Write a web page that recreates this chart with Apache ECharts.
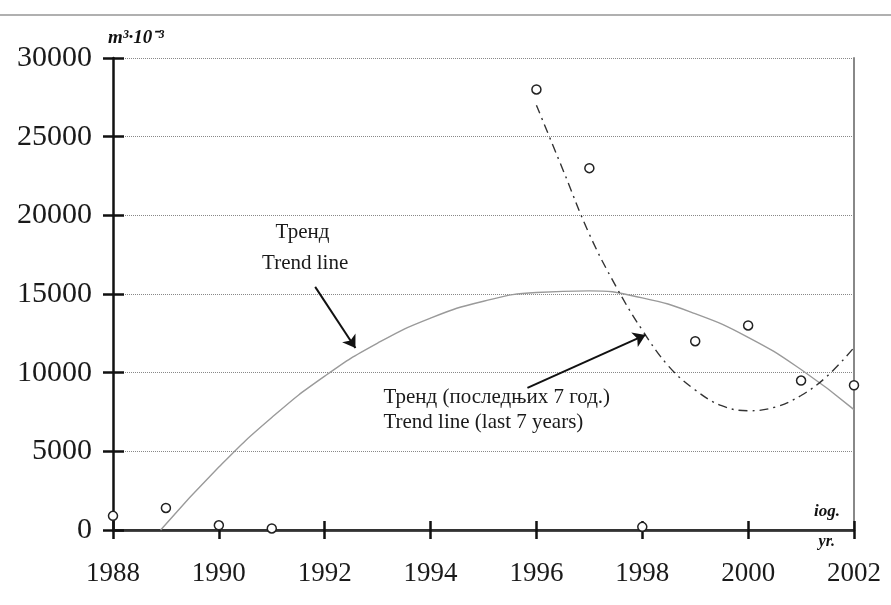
<!DOCTYPE html>
<html>
<head>
<meta charset="utf-8">
<script src="https://cdn.jsdelivr.net/npm/echarts@6/dist/echarts.min.js"></script>
<style>
  html, body { margin: 0; padding: 0; background: #fff; }
  #chart { width: 891px; height: 605px; }
</style>
</head>
<body>
<div id="chart"></div>
<script>
// measured points (m3 * 10^-3)
const years = [1988, 1989, 1990, 1991, 1996, 1997, 1998, 1999, 2000, 2001, 2002]
const volumes = [900, 1400, 300, 100, 28000, 23000, 200, 12000, 13000, 9500, 9200]

// trend line over all years
const trendYears = [1988.9, 1990, 1991, 1992, 1993, 1994, 1995, 1996, 1997, 1998, 1999, 2000, 2001, 2002]
const trendValues = [0, 4000, 7150, 9780, 11880, 13470, 14540, 15100, 15200, 14750, 13750, 12250, 10200, 7650]

// trend line for the last 7 years
const trend7Years = [1996, 1996.5, 1997, 1997.5, 1998, 1998.5, 1999, 1999.5, 2000, 2000.5, 2001, 2001.5, 2002]
const trend7Values = [27000, 22900, 18800, 15500, 12700, 10400, 8900, 7900, 7580, 7800, 8550, 9800, 11600]

const yearTicks = { min: 1988, max: 2002, interval: 2 }
const valueTicks = { min: 0, max: 30000, interval: 5000 }

const serif = 'Liberation Serif'
const chart = echarts.init(document.getElementById('chart'))

const zip = (xs, ys) => xs.map((x, i) => [x, ys[i]])
const plain = (v) => String(v)

chart.setOption({
  animation: false,
  backgroundColor: '#fff',
  grid: { left: 113, right: 37, top: 58, bottom: 75 },
  xAxis: [
    {
      type: 'value', ...yearTicks, position: 'bottom',
      axisLine: { lineStyle: { color: '#111', width: 2.5 } },
      axisTick: { length: 9, lineStyle: { color: '#111', width: 2.5 } },
      axisLabel: { margin: 30, fontFamily: serif, fontSize: 27, color: '#1a1a1a', formatter: plain },
      splitLine: { show: false }
    },
    {
      type: 'value', ...yearTicks, position: 'bottom',
      axisLine: { show: false },
      axisTick: { inside: true, length: 9, lineStyle: { color: '#111', width: 2.5 } },
      axisLabel: { show: false },
      splitLine: { show: false }
    },
    {
      type: 'value', ...yearTicks, position: 'top',
      axisLine: { lineStyle: { color: '#333', width: 2 } },
      axisTick: { show: false },
      axisLabel: { show: false },
      splitLine: { show: false }
    }
  ],
  yAxis: [
    {
      type: 'value', ...valueTicks, position: 'left',
      name: 'm³·10⁻³',
      nameLocation: 'end',
      nameGap: 10,
      nameTextStyle: { fontFamily: serif, fontStyle: 'italic', fontWeight: 'bold', fontSize: 19, color: '#111', align: 'left', padding: [0, 0, 0, -5] },
      axisLine: { lineStyle: { color: '#111', width: 2.5 } },
      axisTick: { length: 10, lineStyle: { color: '#111', width: 2.5 } },
      axisLabel: { margin: 21, fontFamily: serif, fontSize: 30, color: '#1a1a1a', formatter: plain },
      splitLine: { lineStyle: { type: 'dotted', color: '#888', width: 1 } }
    },
    {
      type: 'value', ...valueTicks, position: 'left',
      axisLine: { show: false },
      axisTick: { inside: true, length: 11, lineStyle: { color: '#111', width: 2.5 } },
      axisLabel: { show: false },
      splitLine: { show: false }
    },
    {
      type: 'value', ...valueTicks, position: 'right',
      axisLine: { lineStyle: { color: '#888', width: 2 } },
      axisTick: { show: false },
      axisLabel: { show: false },
      splitLine: { show: false }
    }
  ],
  series: [
    {
      name: 'Тренд',
      type: 'line',
      smooth: 0.5,
      showSymbol: false,
      data: zip(trendYears, trendValues),
      lineStyle: { color: '#9a9a9a', width: 1.4 },
      z: 2
    },
    {
      name: 'Тренд (последњих 7 год.)',
      type: 'line',
      smooth: 0.4,
      showSymbol: false,
      data: zip(trend7Years, trend7Values),
      lineStyle: { color: '#333', width: 1.4, type: [9, 5, 2, 5] },
      z: 2
    },
    {
      // annotation arrows, drawn in data space
      type: 'lines',
      coordinateSystem: 'cartesian2d',
      symbol: ['none', 'arrow'],
      symbolSize: [8, 12],
      lineStyle: { color: '#111', width: 2, opacity: 1 },
      data: [
        { coords: [[1991.82, 15450], [1992.58, 11570]] },
        { coords: [[1995.83, 9030], [1998.06, 12400]] }
      ],
      z: 3
    },
    {
      type: 'scatter',
      symbol: 'circle',
      symbolSize: 9,
      data: zip(years, volumes),
      itemStyle: { color: '#fff', borderColor: '#222', borderWidth: 1.5, opacity: 1 },
      z: 5
    }
  ]
})

// text annotations placed through the chart's own scales
const px = (p) => chart.convertToPixel({ gridIndex: 0 }, p)
const note = (p, text, opts) => {
  const [x, y] = px(p)
  return {
    type: 'text',
    x, y,
    style: Object.assign({
      text, fill: '#1a1a1a', font: '21px "' + serif + '"',
      textAlign: 'center', textVerticalAlign: 'middle'
    }, opts || {}),
    z: 10
  }
}
const corner = px([2002, 0])

chart.setOption({
  graphic: [
    { type: 'rect', left: 0, top: 14, shape: { width: 891, height: 2 }, style: { fill: '#b0b0b0' } },
    note([1991.58, 18880], 'Тренд'),
    note([1991.63, 16970], 'Trend line'),
    note([1993.11, 8450], 'Тренд (последњих 7 год.)', { textAlign: 'left' }),
    note([1993.11, 6860], 'Trend line (last 7 years)', { textAlign: 'left' }),
    {
      type: 'text', x: corner[0] - 14, y: corner[1] - 18,
      style: { text: 'iog.', fill: '#111', font: 'italic bold 17px "' + serif + '"', textAlign: 'right', textVerticalAlign: 'middle' }
    },
    {
      type: 'text', x: corner[0] - 19, y: corner[1] + 12,
      style: { text: 'yr.', fill: '#111', font: 'italic bold 16px "' + serif + '"', textAlign: 'right', textVerticalAlign: 'middle' }
    }
  ]
})
</script>
</body>
</html>
